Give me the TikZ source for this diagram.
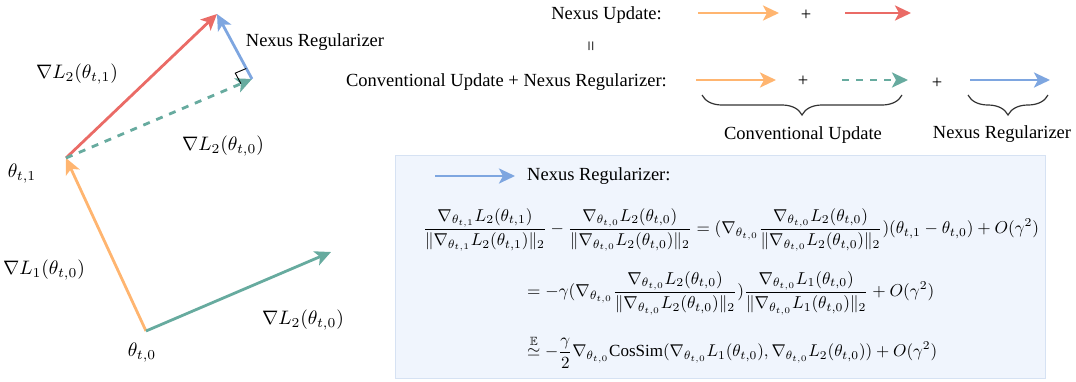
\documentclass[tikz,border=0pt]{standalone}
\usepackage{amsmath,amssymb}
\usepackage{graphicx}
\usepackage{fontspec}
\setmainfont{Liberation Serif}
\usetikzlibrary{arrows.meta,decorations.pathreplacing,calc}
\definecolor{corange}{HTML}{FFB570}
\definecolor{cred}{HTML}{EA6B66}
\definecolor{cblue}{HTML}{7EA6E0}
\definecolor{cgreen}{HTML}{67AB9F}
\definecolor{boxfill}{HTML}{F0F5FD}
\definecolor{boxdraw}{HTML}{D6E2F3}
\begin{document}
\begin{tikzpicture}[x=1pt,y=-1pt,
  vec/.style={line width=2.8pt,-{Stealth[length=16pt,width=15pt,inset=4pt]}},
  dashvec/.style={vec,dash pattern=on 7pt off 7pt},
  txt/.style={font=\fontsize{18.5}{22}\selectfont,inner sep=0pt},
  mlab/.style={scale=1.95,inner sep=0pt},
  eqn/.style={inner sep=0pt},
  bracestyle/.style={line width=1.2pt,draw=black!80,decorate,decoration={brace,amplitude=20pt,mirror}}]
\useasboundingbox (0,0) rectangle (1076,381);
% ---------- left vector diagram ----------
\coordinate (t0) at (146,331);
\coordinate (t1) at (66,158);
\coordinate (rtip) at (217,14);
\coordinate (bstart) at (252,79);
\coordinate (tg) at (331,252);
\draw[vec,corange] (t0) -- (t1);
\draw[vec,cred] (t1) -- (rtip);
\draw[dashvec,cgreen] (t1) -- (bstart);
\draw[vec,cblue] (bstart) -- (rtip);
\draw[vec,cgreen] (t0) -- (tg);
\coordinate (ra) at ($(bstart)!12pt!(rtip)$);
\coordinate (rb) at ($(bstart)!12pt!(t1)$);
\coordinate (rc) at ($(ra)+(rb)-(bstart)$);
\draw[line width=0.9pt] (ra) -- (rc) -- (rb);
\node[mlab] (lab1) at (77,74) {$\nabla L_2(\theta_{t,1})$};
\node[txt] (labnr) at (315,42) {Nexus Regularizer};
\node[mlab] (lab2) at (223,146) {$\nabla L_2(\theta_{t,0})$};
\node[mlab] (labt1) at (22,174) {$\theta_{t,1}$};
\node[mlab] (lab3) at (44,270) {$\nabla L_1(\theta_{t,0})$};
\node[mlab] (lab4) at (303,320) {$\nabla L_2(\theta_{t,0})$};
\node[mlab] (labt0) at (142,353) {$\theta_{t,0}$};
% ---------- top right legend ----------
\node[txt,anchor=east] (nu) at (662,15) {Nexus Update:};
\coordinate (o1a) at (698,13); \coordinate (o1b) at (779,13);
\draw[vec,corange] (o1a) -- (o1b);
\node[txt] (plus1) at (806,15) {+};
\coordinate (r1a) at (845,13); \coordinate (r1b) at (911,13);
\draw[vec,cred] (r1a) -- (r1b);
\node[txt,rotate=90] (eqsign) at (593,46) {=};
\node[txt,anchor=east] (cu) at (667,82) {Conventional Update + Nexus Regularizer:};
\coordinate (o2a) at (696,80); \coordinate (o2b) at (776,80);
\draw[vec,corange] (o2a) -- (o2b);
\node[txt] (plus2) at (803,81) {+};
\coordinate (g2a) at (842,80); \coordinate (g2b) at (908,80);
\draw[dashvec,cgreen] (g2a) -- (g2b);
\node[txt] (plus3) at (937,83) {+};
\coordinate (b2a) at (970,80); \coordinate (b2b) at (1050,80);
\draw[vec,cblue] (b2a) -- (b2b);
\coordinate (br1a) at (702,95); \coordinate (br1b) at (902,95);
\draw[bracestyle] (br1a) -- (br1b);
\coordinate (br2a) at (968,95); \coordinate (br2b) at (1048,95);
\draw[bracestyle] (br2a) -- (br2b);
\node[txt] (cul) at (803,135) {Conventional Update};
\node[txt] (nrl) at (1002,134) {Nexus Regularizer};
% ---------- formula box ----------
\node[draw=boxdraw,fill=boxfill,line width=1pt,minimum width=650pt,minimum height=223pt,anchor=north west,inner sep=0pt] (box) at (395,155) {};
\coordinate (b3a) at (435,176); \coordinate (b3b) at (515,176);
\draw[vec,cblue] (b3a) -- (b3b);
\node[txt,anchor=west] (nrt) at (527,176) {Nexus Regularizer:};
\node[eqn] (eq1) at (731,230) {\resizebox{616pt}{!}{$\displaystyle
 \frac{\nabla_{\theta_{t,1}} L_2(\theta_{t,1})}{\|\nabla_{\theta_{t,1}} L_2(\theta_{t,1})\|_2}
 - \frac{\nabla_{\theta_{t,0}} L_2(\theta_{t,0})}{\|\nabla_{\theta_{t,0}} L_2(\theta_{t,0})\|_2}
 = (\nabla_{\theta_{t,0}} \frac{\nabla_{\theta_{t,0}} L_2(\theta_{t,0})}{\|\nabla_{\theta_{t,0}} L_2(\theta_{t,0})\|_2})(\theta_{t,1}-\theta_{t,0}) + O(\gamma^2)$}};
\node[eqn,anchor=west] (eq2) at (527,293) {\resizebox{407pt}{!}{$\displaystyle
 = -\gamma(\nabla_{\theta_{t,0}} \frac{\nabla_{\theta_{t,0}} L_2(\theta_{t,0})}{\|\nabla_{\theta_{t,0}} L_2(\theta_{t,0})\|_2})
 \frac{\nabla_{\theta_{t,0}} L_1(\theta_{t,0})}{\|\nabla_{\theta_{t,0}} L_1(\theta_{t,0})\|_2} + O(\gamma^2)$}};
\node[eqn,anchor=west] (eq3) at (527,352) {\resizebox{410pt}{!}{$\displaystyle
 \overset{\mathbb{E}}{\simeq} -\frac{\gamma}{2}\nabla_{\theta_{t,0}}\mathrm{CosSim}(\nabla_{\theta_{t,0}} L_1(\theta_{t,0}), \nabla_{\theta_{t,0}} L_2(\theta_{t,0})) + O(\gamma^2)$}};
\end{tikzpicture}
\end{document}
